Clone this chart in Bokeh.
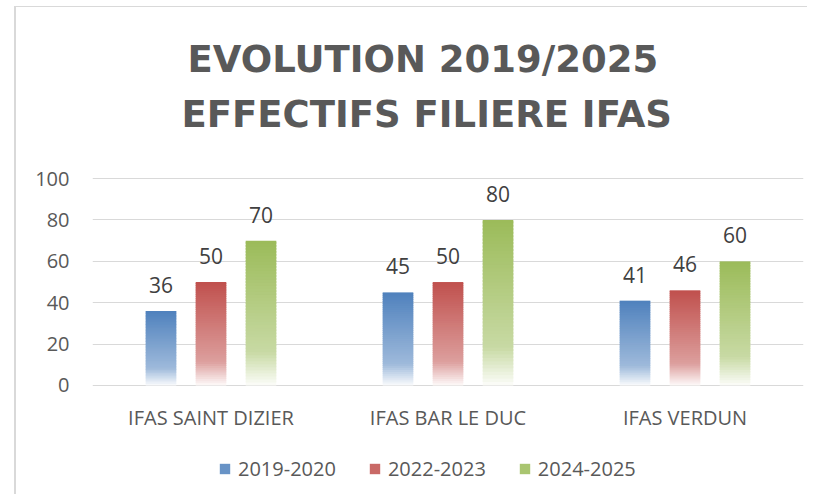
from bokeh.plotting import figure
from bokeh.models import (FactorRange, Range1d, FixedTicker, Title, LabelSet,
                          ColumnDataSource, Legend, LegendItem)
from bokeh.core.properties import value
from bokeh.embed import file_html
from bokeh.resources import INLINE

# ---- data ----
categories = ["IFAS SAINT DIZIER", "IFAS BAR LE DUC", "IFAS VERDUN"]
series_names = ["2019-2020", "2022-2023", "2024-2025"]
values_2019_2020 = [36, 45, 41]
values_2022_2023 = [50, 50, 46]
values_2024_2025 = [70, 80, 60]
y_ticks = [0, 20, 40, 60, 80, 100]
title_lines = ["EVOLUTION 2019/2025", "EFFECTIFS FILIERE IFAS"]

series_values = [values_2019_2020, values_2022_2023, values_2024_2025]
series_colors = ["#4F81BD", "#C0504D", "#9BBB59"]
offsets = [-0.211, 0.0, 0.211]
bar_w = 0.129
TXT = "#595959"
FONT = "Open Sans"


def mix(c, t):
    """mix hex colour c with white by fraction t (0 = colour, 1 = white)"""
    r, g, b = int(c[1:3], 16), int(c[3:5], 16), int(c[5:7], 16)
    r = round(r + (255 - r) * t); g = round(g + (255 - g) * t); b = round(b + (255 - b) * t)
    return "#%02x%02x%02x" % (r, g, b)


def grad(c, t):
    # t: 0 at bar top, 1 at bar bottom
    if t <= 0.77:
        return mix(c, 0.45 * t / 0.77)
    u = (t - 0.77) / 0.23
    return mix(c, 0.45 + 0.52 * u)


p = figure(x_range=FactorRange(*categories, range_padding=0),
           y_range=Range1d(-52.7, 116),
           width=807, height=494,
           min_border_left=92, min_border_right=4,
           min_border_top=145, min_border_bottom=0,
           output_backend="svg", toolbar_location=None,
           styles={"box-shadow": "inset 14px 6px 0 0 #ffffff, inset 16px 7px 0 0 #d9d9d9"})
p.outline_line_color = None
p.background_fill_color = "white"
p.border_fill_color = None

# gradient bars built from the data values as stacked slices
N = 48
bar_renderers = []
for s, (vals, col, off) in enumerate(zip(series_values, series_colors, offsets)):
    xs, bots, tops, cols = [], [], [], []
    for i, v in enumerate(vals):
        xc = i + 0.5 + off
        for k in range(N):
            b = v * k / N
            t = min(v, v * (k + 1.6) / N)
            xs.append(xc); bots.append(b); tops.append(t)
            cols.append(grad(col, 1 - (k + 0.5) / N))
    src = ColumnDataSource(dict(x=xs, bottom=bots, top=tops, c=cols))
    r = p.vbar(x="x", width=bar_w, bottom="bottom", top="top", source=src,
               fill_color="c", line_color=None)
    bar_renderers.append(r)

    lab_src = ColumnDataSource(dict(x=[i + 0.5 + off for i in range(len(vals))],
                                    y=vals, t=[str(v) for v in vals]))
    p.add_layout(LabelSet(x="x", y="y", text="t", source=lab_src,
                          y_offset=18, text_align="center", text_baseline="alphabetic",
                          text_font=value(FONT), text_font_size="21px",
                          text_color="#404040"))

# category labels under the baseline
cat_src = ColumnDataSource(dict(x=[i + 0.5 for i in range(len(categories))],
                                y=[0] * len(categories), t=categories))
p.add_layout(LabelSet(x="x", y="y", text="t", source=cat_src, y_offset=-40,
                      text_align="center", text_baseline="alphabetic",
                      text_font=value(FONT), text_font_size="20px",
                      text_color=TXT))
p.xaxis.visible = False

# titles (second line first: later titles stack further from the frame)
for line, so, off in zip(reversed(title_lines), [20, 0], [89, 95]):
    p.add_layout(Title(text=line, align="left", offset=off, standoff=so,
                       text_font="DejaVu Sans", text_font_style="bold",
                       text_font_size="37px", text_color=TXT), "above")

# axes / grid
p.xgrid.grid_line_color = None
p.ygrid.grid_line_color = "#d9d9d9"
p.ygrid.grid_line_width = 1
p.yaxis.ticker = FixedTicker(ticks=y_ticks)
p.yaxis.axis_line_color = None
p.yaxis.major_tick_line_color = None
p.yaxis.minor_tick_line_color = None
p.yaxis.major_label_standoff = 17
p.yaxis.major_label_text_font = FONT
p.yaxis.major_label_text_font_size = "20px"
p.yaxis.major_label_text_color = TXT

# legend: swatches take the colour of a slice near the top of each series' first bar
items = [LegendItem(label=name, renderers=[r], index=N - 12)
         for name, r in zip(series_names, bar_renderers)]
legend = Legend(items=items, orientation="horizontal", location=(126, 12),
                label_text_font=FONT, label_text_font_size="20px",
                label_text_color=TXT, glyph_width=13, glyph_height=13,
                label_standoff=7, spacing=32, padding=0, margin=0,
                label_height=20, border_line_color=None,
                background_fill_alpha=0)
p.add_layout(legend)

open("out.html", "w").write(file_html(p, INLINE))
